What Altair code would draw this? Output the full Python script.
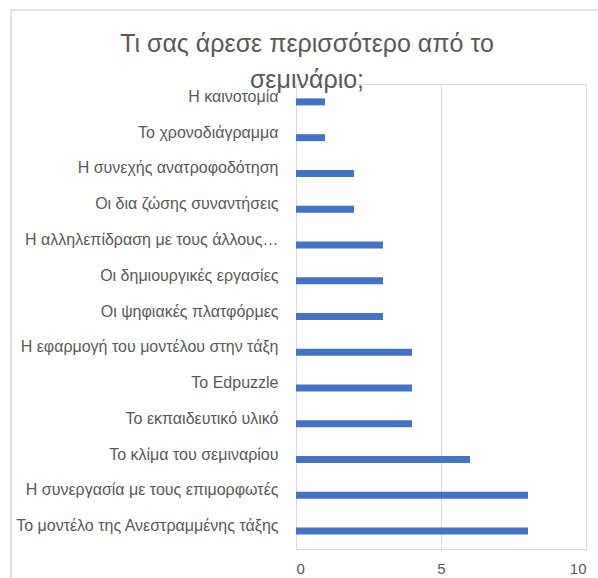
import altair as alt
import pandas as pd

categories = [
    "Η καινοτομία",
    "Το χρονοδιάγραμμα",
    "Η συνεχής ανατροφοδότηση",
    "Οι δια ζώσης συναντήσεις",
    "Η αλληλεπίδραση με τους άλλους…",
    "Οι δημιουργικές εργασίες",
    "Οι ψηφιακές πλατφόρμες",
    "Η εφαρμογή του μοντέλου  στην τάξη",
    "Το Edpuzzle",
    "Το εκπαιδευτικό  υλικό",
    "Το κλίμα του σεμιναρίου",
    "Η συνεργασία με τους επιμορφωτές",
    "Το μοντέλο της Ανεστραμμένης τάξης",
]
values = [1, 1, 2, 2, 3, 3, 3, 4, 4, 4, 6, 8, 8]
x_ticks = [0, 5, 10]
title_lines = ["Τι σας άρεσε περισσότερο από το", "σεμινάριο;"]

df = pd.DataFrame({"cat": categories, "val": values})

FONT = "Liberation Sans Narrow, Liberation Sans, sans-serif"
GREY = "#595959"

bars = alt.Chart(df).mark_bar(color="#4472C4", size=7).encode(
    x=alt.X(
        "val:Q",
        scale=alt.Scale(domain=[0, 10], nice=False),
        axis=alt.Axis(
            values=x_ticks,
            title=None,
            domain=False,
            ticks=False,
            grid=True,
            gridColor="#d9d9d9",
            labelColor=GREY,
            labelFont=FONT,
            labelFontSize=15,
            labelPadding=12,
        ),
    ),
    y=alt.Y(
        "cat:N",
        sort=categories,
        axis=alt.Axis(
            title=None,
            domain=False,
            ticks=False,
            labelColor=GREY,
            labelFont=FONT,
            labelFontSize=16,
            labelPadding=18,
            labelOffset=-5,
            labelLimit=300,
        ),
    ),
)

border = alt.Chart(pd.DataFrame({"a": [0]})).mark_rect(
    fill=None, stroke="#d9d9d9", strokeWidth=1.5
).encode(
    x=alt.value(-285),
    x2=alt.value(310),
    y=alt.value(-74),
    y2=alt.value(520),
)

chart = (
    alt.layer(border, bars)
    .properties(
        width=290,
        height=465,
        title=alt.TitleParams(
            text=title_lines,
            font=FONT,
            fontSize=25,
            fontWeight="normal",
            color=GREY,
            anchor="middle",
            dx=-134,
            dy=88,
            lineHeight=36,
        ),
        autosize=alt.AutoSizeParams(type="none"),
        padding={"left": 296, "top": 84, "right": 12, "bottom": 29},
    )
    .configure_view(stroke=None)
    .configure(background="white")
)

chart.save("out.html", embed_options={"renderer": "svg", "actions": False})
